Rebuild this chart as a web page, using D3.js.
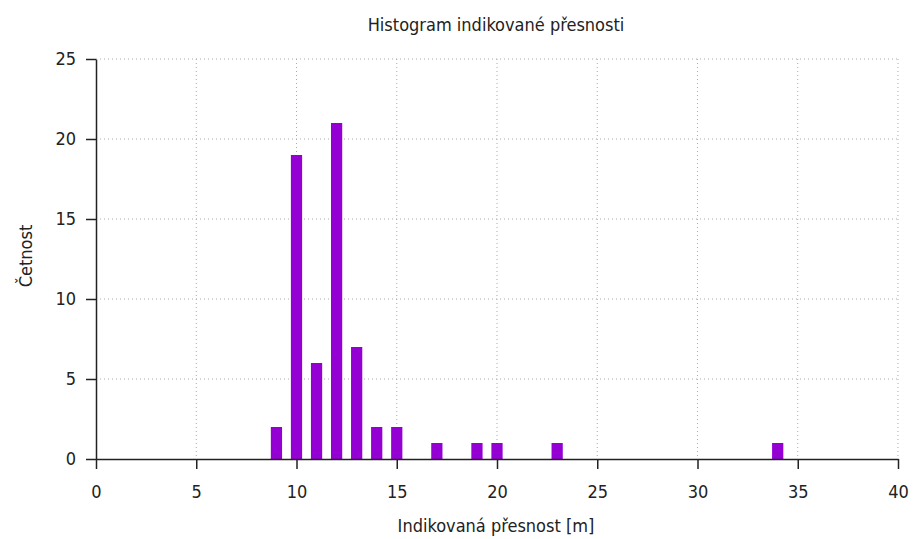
<!DOCTYPE html>
<html>
<head>
<meta charset="utf-8">
<script src="https://cdn.jsdelivr.net/npm/d3@7"></script>
<style>
  body { margin: 0; background: #fff; }
  text { font-family: "DejaVu Sans Condensed", "DejaVu Sans", sans-serif; fill: #222; }
  .grid line { stroke: #aaa; stroke-dasharray: 1,3; }
  .axis path, .axis line { stroke: #222; stroke-width: 1.5; }
</style>
</head>
<body>
<div id="chart"></div>
<script>
// data
var accuracy = [9, 10, 11, 12, 13, 14, 15, 17, 19, 20, 23, 34];
var counts = [2, 19, 6, 21, 7, 2, 2, 1, 1, 1, 1, 1];
var xTicks = [0, 5, 10, 15, 20, 25, 30, 35, 40];
var yTicks = [0, 5, 10, 15, 20, 25];

var svgWidth = 913;
var svgHeight = 539;

var margin = { top: 59, right: 15, bottom: 80, left: 96 };
var width = 898 - margin.left;
var height = 459 - margin.top;

var svg = d3.select("#chart")
  .append("svg")
  .attr("width", svgWidth)
  .attr("height", svgHeight);

var chartGroup = svg.append("g")
  .attr("transform", `translate(${margin.left}, ${margin.top})`);

var xScale = d3.scaleLinear().domain([0, 40]).range([0, width]);
var yScale = d3.scaleLinear().domain([0, 25]).range([height, 0]);

// dotted grid
var grid = chartGroup.append("g").attr("class", "grid");
grid.selectAll("line.v")
  .data(xTicks.filter(d => d > 0))
  .enter().append("line")
  .attr("x1", d => xScale(d)).attr("x2", d => xScale(d))
  .attr("y1", 0).attr("y2", height);
grid.selectAll("line.h")
  .data(yTicks.filter(d => d > 0))
  .enter().append("line")
  .attr("x1", 0).attr("x2", width)
  .attr("y1", d => yScale(d)).attr("y2", d => yScale(d));

// bars
var barW = xScale(0.56) - xScale(0);
chartGroup.selectAll("rect")
  .data(accuracy)
  .enter()
  .append("rect")
  .attr("x", d => xScale(d) - barW / 2)
  .attr("y", (d, i) => yScale(counts[i]))
  .attr("width", barW)
  .attr("height", (d, i) => height - yScale(counts[i]))
  .attr("fill", "#9400d3");

// axes
var bottomAxis = d3.axisBottom(xScale).tickValues(xTicks).tickSize(10).tickSizeOuter(0).tickPadding(16);
var leftAxis = d3.axisLeft(yScale).tickValues(yTicks).tickSize(10).tickSizeOuter(0).tickPadding(10);

chartGroup.append("g")
  .attr("class", "axis")
  .attr("transform", `translate(0, ${height})`)
  .call(bottomAxis)
  .selectAll("text").style("font-size", "18px");

chartGroup.append("g")
  .attr("class", "axis")
  .call(leftAxis)
  .selectAll("text").style("font-size", "18px");

// title and labels
svg.append("text")
  .attr("x", 496)
  .attr("y", 31)
  .attr("text-anchor", "middle")
  .style("font-size", "18px")
  .text("Histogram indikované přesnosti");

svg.append("text")
  .attr("x", 496)
  .attr("y", 532)
  .attr("text-anchor", "middle")
  .style("font-size", "18px")
  .text("Indikovaná přesnost [m]");

svg.append("text")
  .attr("transform", "rotate(-90)")
  .attr("x", -256)
  .attr("y", 32)
  .attr("text-anchor", "middle")
  .style("font-size", "18px")
  .text("Četnost");
</script>
</body>
</html>
